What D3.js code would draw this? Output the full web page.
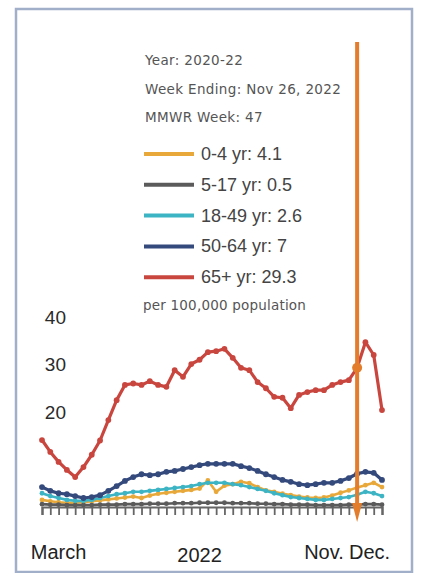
<!DOCTYPE html>
<html>
<head>
<meta charset="utf-8">
<script src="https://cdn.jsdelivr.net/npm/d3@7"></script>
<style>
  body { margin: 0; background: #fff; }
</style>
</head>
<body>
<div id="chart"></div>
<script>
// Weekly hospitalization rates by age group, Mar - Dec 2022

// Categories: MMWR weeks (week ending Mar 5 ... Dec 17, 2022)
const mmwrWeeks = [9, 10, 11, 12, 13, 14, 15, 16, 17, 18, 19, 20, 21, 22, 23, 24, 25, 26, 27, 28, 29,
    30, 31, 32, 33, 34, 35, 36, 37, 38, 39, 40, 41, 42, 43, 44, 45, 46, 47, 48, 49, 50];

// Series values (per 100,000 population)
const age0to4 = [1.5, 1.2, 1.0, 0.9, 0.9, 1.0, 1.2, 1.4, 1.6, 1.8, 2.0, 2.2, 1.9, 2.4, 2.8, 3.0, 3.2, 3.4, 3.6, 3.9, 5.6,
    3.2, 4.5, 4.8, 5.3, 5.0, 4.2, 3.5, 3.2, 2.8, 2.5, 2.2, 2.0, 1.9, 2.0, 2.4, 3.0, 3.5, 4.1, 4.6, 5.1, 4.2];
const age5to17 = [0.6, 0.5, 0.5, 0.4, 0.4, 0.4, 0.4, 0.5, 0.5, 0.5, 0.6, 0.6, 0.6, 0.7, 0.7, 0.7, 0.8, 0.8, 0.8, 0.9, 0.9,
    0.9, 0.9, 0.8, 0.8, 0.8, 0.7, 0.7, 0.6, 0.6, 0.5, 0.5, 0.5, 0.4, 0.4, 0.4, 0.4, 0.5, 0.5, 0.6, 0.6, 0.5];
const age18to49 = [2.9, 2.3, 1.9, 1.5, 1.3, 1.3, 1.5, 1.9, 2.3, 2.7, 2.9, 3.2, 3.2, 3.4, 3.6, 3.8, 4.0, 4.2, 4.4, 4.8, 5.1,
    5.1, 5.1, 4.8, 4.6, 4.2, 3.8, 3.4, 2.9, 2.5, 2.1, 1.9, 1.7, 1.5, 1.5, 1.7, 1.9, 2.1, 2.6, 3.2, 2.9, 2.3];
const age50to64 = [4.2, 3.4, 2.9, 2.7, 2.3, 1.9, 2.1, 2.5, 3.4, 4.4, 5.5, 6.3, 6.9, 6.7, 6.9, 7.4, 7.6, 8.0, 8.4, 8.8, 9.1,
    9.1, 9.1, 9.1, 8.6, 8.2, 7.6, 6.9, 6.3, 5.7, 5.3, 4.8, 4.6, 4.8, 5.1, 5.1, 5.5, 6.1, 7.0, 7.4, 7.2, 5.7];
const age65plus = [14.1, 11.6, 9.5, 7.8, 6.3, 8.4, 11.0, 14.0, 18.3, 22.5, 25.7, 26.0, 25.7, 26.5, 25.7, 25.3, 28.8, 27.4, 30.1, 31.0, 32.6,
    32.8, 33.3, 31.4, 29.3, 28.8, 26.3, 25.0, 23.2, 23.0, 20.8, 23.6, 24.2, 24.6, 24.6, 25.7, 26.3, 26.7, 29.3, 34.7, 32.0, 20.4];

const seriesNames = ['0-4 yr', '5-17 yr', '18-49 yr', '50-64 yr', '65+ yr'];
const seriesColors = ['#e9a93a', '#5b5b5b', '#3db4c4', '#34497c', '#c9463f'];
const seriesValues = [age0to4, age5to17, age18to49, age50to64, age65plus];

// Highlighted week
const selectedWeek = 47;
const headerLines = ['Year: 2020-22', 'Week Ending: Nov 26, 2022', 'MMWR Week: 47'];
const unitsText = 'per 100,000 population';

// Axis labels
const yTicks = [20, 30, 40];
const xLabelText = ['March', '2022', 'Nov.', 'Dec.'];
const xLabelWeek = [11, 28, 43, 48.5];

const width = 423, height = 573;
const mainFont = '"Liberation Sans", Arial, sans-serif';
const smallFont = '"DejaVu Sans", Verdana, sans-serif';

const svg = d3.select('#chart')
    .append('svg')
    .attr('width', width)
    .attr('height', height)
    .style('font-family', mainFont);

// Frame
svg.append('rect')
    .attr('x', 16).attr('y', 9)
    .attr('width', 396).attr('height', 563)
    .attr('fill', '#fff')
    .attr('stroke', '#a2afc8')
    .attr('stroke-width', 2.5);

const x = d3.scaleLinear()
    .domain([mmwrWeeks[0], mmwrWeeks[mmwrWeeks.length - 1]])
    .range([42, 382]);

const y = d3.scaleLinear()
    .domain([0, 40])
    .range([507, 317]);

// Y axis labels
const yAxis = svg.append('g')
    .attr('transform', 'translate(66,0)')
    .call(d3.axisLeft(y).tickValues(yTicks).tickSize(0).tickPadding(0));
yAxis.select('.domain').remove();
yAxis.attr('font-family', null).attr('font-size', null);
yAxis.selectAll('text')
    .style('font-family', mainFont)
    .style('font-size', '19px')
    .attr('fill', '#2a2a2a');

// X axis with weekly ticks
const xAxis = svg.append('g')
    .attr('transform', `translate(0,${y(0)})`)
    .call(d3.axisBottom(x).tickValues(mmwrWeeks).tickSize(8).tickFormat(''));
xAxis.select('.domain').attr('stroke', '#666').attr('stroke-width', 2.2);
xAxis.selectAll('.tick line').attr('stroke', '#666').attr('stroke-width', 1.8);

// X labels
svg.append('g')
    .selectAll('text')
    .data(xLabelText)
    .enter().append('text')
    .attr('x', (d, i) => x(xLabelWeek[i]))
    .attr('y', (d, i) => d === '2022' ? 562 : 559)
    .attr('text-anchor', 'middle')
    .style('font-size', '20px')
    .attr('fill', '#222')
    .text(d => d);

// Series lines and markers
const line = d3.line()
    .x((d, i) => x(mmwrWeeks[i]))
    .y(d => y(d));

const seriesGroup = svg.append('g');
seriesValues.forEach((values, s) => {
    const g = seriesGroup.append('g');
    g.append('path')
        .datum(values)
        .attr('fill', 'none')
        .attr('stroke', seriesColors[s])
        .attr('stroke-width', s >= 3 ? 3.2 : 2.6)
        .attr('stroke-linejoin', 'round')
        .attr('d', line);
    g.selectAll('circle')
        .data(values)
        .enter().append('circle')
        .attr('cx', (d, i) => x(mmwrWeeks[i]))
        .attr('cy', d => y(d))
        .attr('r', s >= 3 ? 2.9 : 2.4)
        .attr('fill', seriesColors[s]);
});

// Highlight marker and arrow for the selected week
const selIndex = mmwrWeeks.indexOf(selectedWeek);
const orange = '#e37d2c';

svg.append('line')
    .attr('x1', x(selectedWeek)).attr('x2', x(selectedWeek))
    .attr('y1', 42).attr('y2', y(0) - 2)
    .attr('stroke', orange)
    .attr('stroke-width', 4);

svg.append('path')
    .attr('d', `M${x(selectedWeek) - 5},${y(0) - 4} L${x(selectedWeek) + 5},${y(0) - 4} L${x(selectedWeek)},${y(0) + 15} Z`)
    .attr('fill', orange);

svg.append('circle')
    .attr('cx', x(selectedWeek))
    .attr('cy', y(age65plus[selIndex]))
    .attr('r', 5)
    .attr('fill', orange);

// Legend / tooltip block
const legend = svg.append('g');

legend.selectAll('.hdr')
    .data(headerLines)
    .enter().append('text')
    .attr('class', 'hdr')
    .attr('x', 145)
    .attr('y', (d, i) => 65 + i * 28.5)
    .style('font-family', smallFont)
    .style('font-size', '13.5px')
    .style('letter-spacing', '0.35px')
    .attr('fill', '#555')
    .text(d => d);

const items = legend.selectAll('.item')
    .data(seriesNames)
    .enter().append('g')
    .attr('class', 'item')
    .attr('transform', (d, i) => `translate(144,${154 + i * 30.8})`);

items.append('line')
    .attr('x1', 0).attr('x2', 50)
    .attr('stroke', (d, i) => seriesColors[i])
    .attr('stroke-width', 4);

items.append('text')
    .attr('x', 57)
    .attr('y', 6)
    .style('font-size', '18px')
    .attr('fill', '#444')
    .text((d, i) => `${d}:  ${seriesValues[i][selIndex]}`);

legend.append('text')
    .attr('x', 143)
    .attr('y', 310)
    .style('font-family', smallFont)
    .style('font-size', '13.5px')
    .style('letter-spacing', '0.2px')
    .attr('fill', '#555')
    .text(unitsText);
</script>
</body>
</html>
